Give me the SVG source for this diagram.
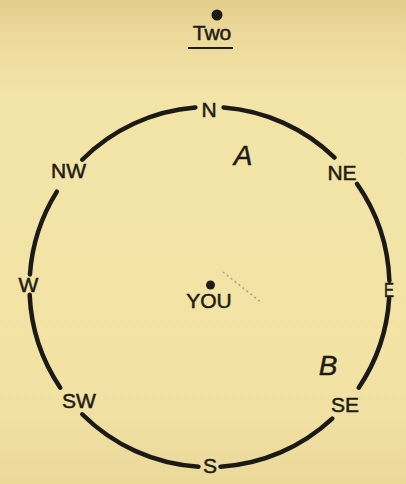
<svg xmlns="http://www.w3.org/2000/svg" width="406" height="484" viewBox="0 0 406 484">
  <defs>
    <linearGradient id="paper" x1="0" y1="0" x2="0" y2="1">
      <stop offset="0" stop-color="#e2cc8c"/>
      <stop offset="0.07" stop-color="#ecd99b"/>
      <stop offset="0.2" stop-color="#f3e4a7"/>
      <stop offset="0.8" stop-color="#f2e3a5"/>
      <stop offset="1" stop-color="#ebd99a"/>
    </linearGradient>
    <style>
      .lbl { font-family: "Liberation Sans", Arial, sans-serif; font-size: 21px; fill: #1d1b15; stroke: #1d1b15; stroke-width: 0.5; text-anchor: middle; }
      .hand { font-family: "Liberation Sans", Arial, sans-serif; font-size: 28px; font-style: italic; fill: #1d1b15; stroke: #1d1b15; stroke-width: 0.5; text-anchor: middle; }
      .arc { fill: none; stroke: #1b1a16; stroke-width: 4.5; stroke-linecap: round; }
    </style>
  </defs>
  <rect x="0" y="0" width="406" height="484" fill="url(#paper)"/>

  <g id="title">
    <circle cx="217" cy="15" r="5.5" fill="#1d1b15"/>
    <text class="lbl" x="212" y="40">Two</text>
    <line x1="188" y1="48" x2="233" y2="48" stroke="#1d1b15" stroke-width="2"/>
  </g>

  <g id="connectors">
    <path class="arc" d="M389.16,297.99 A180,180 0 0 1 358.73,387.65"/>
    <path class="arc" d="M332.26,418.64 A180,180 0 0 1 220.49,466.66"/>
    <path class="arc" d="M198.51,466.66 A180,180 0 0 1 82.22,414.28"/>
    <path class="arc" d="M60.27,387.65 A180,180 0 0 1 29.67,294.85"/>
    <path class="arc" d="M29.94,274.44 A180,180 0 0 1 56.85,191.61"/>
    <path class="arc" d="M82.22,159.72 A180,180 0 0 1 195.38,107.55"/>
    <path class="arc" d="M223.62,107.55 A180,180 0 0 1 334.54,157.52"/>
    <path class="arc" d="M356.95,183.76 A180,180 0 0 1 389.39,280.72"/>
  </g>

  <g id="n"><text class="lbl" x="209" y="117">N</text></g>
  <g id="ne"><text class="lbl" x="342" y="180">NE</text></g>
  <g id="e"><text class="lbl" x="389" y="297" textLength="10" lengthAdjust="spacingAndGlyphs">E</text></g>
  <g id="se"><text class="lbl" x="345" y="412">SE</text></g>
  <g id="s"><text class="lbl" x="210" y="473">S</text></g>
  <g id="sw"><text class="lbl" x="79" y="408">SW</text></g>
  <g id="w"><text class="lbl" x="28.5" y="292">W</text></g>
  <g id="nw"><text class="lbl" x="68.5" y="178">NW</text></g>

  <g id="you">
    <circle cx="210.5" cy="285" r="4.5" fill="#1d1b15"/>
    <text class="lbl" x="209" y="308">YOU</text>
  </g>
  <path d="M223,272 L262,303" stroke="#6b5e3c" stroke-width="1.5" stroke-dasharray="2 3" opacity="0.5" fill="none"/>

  <g id="a"><text class="hand" x="243" y="165">A</text></g>
  <g id="b"><text class="hand" x="328" y="375">B</text></g>
</svg>
